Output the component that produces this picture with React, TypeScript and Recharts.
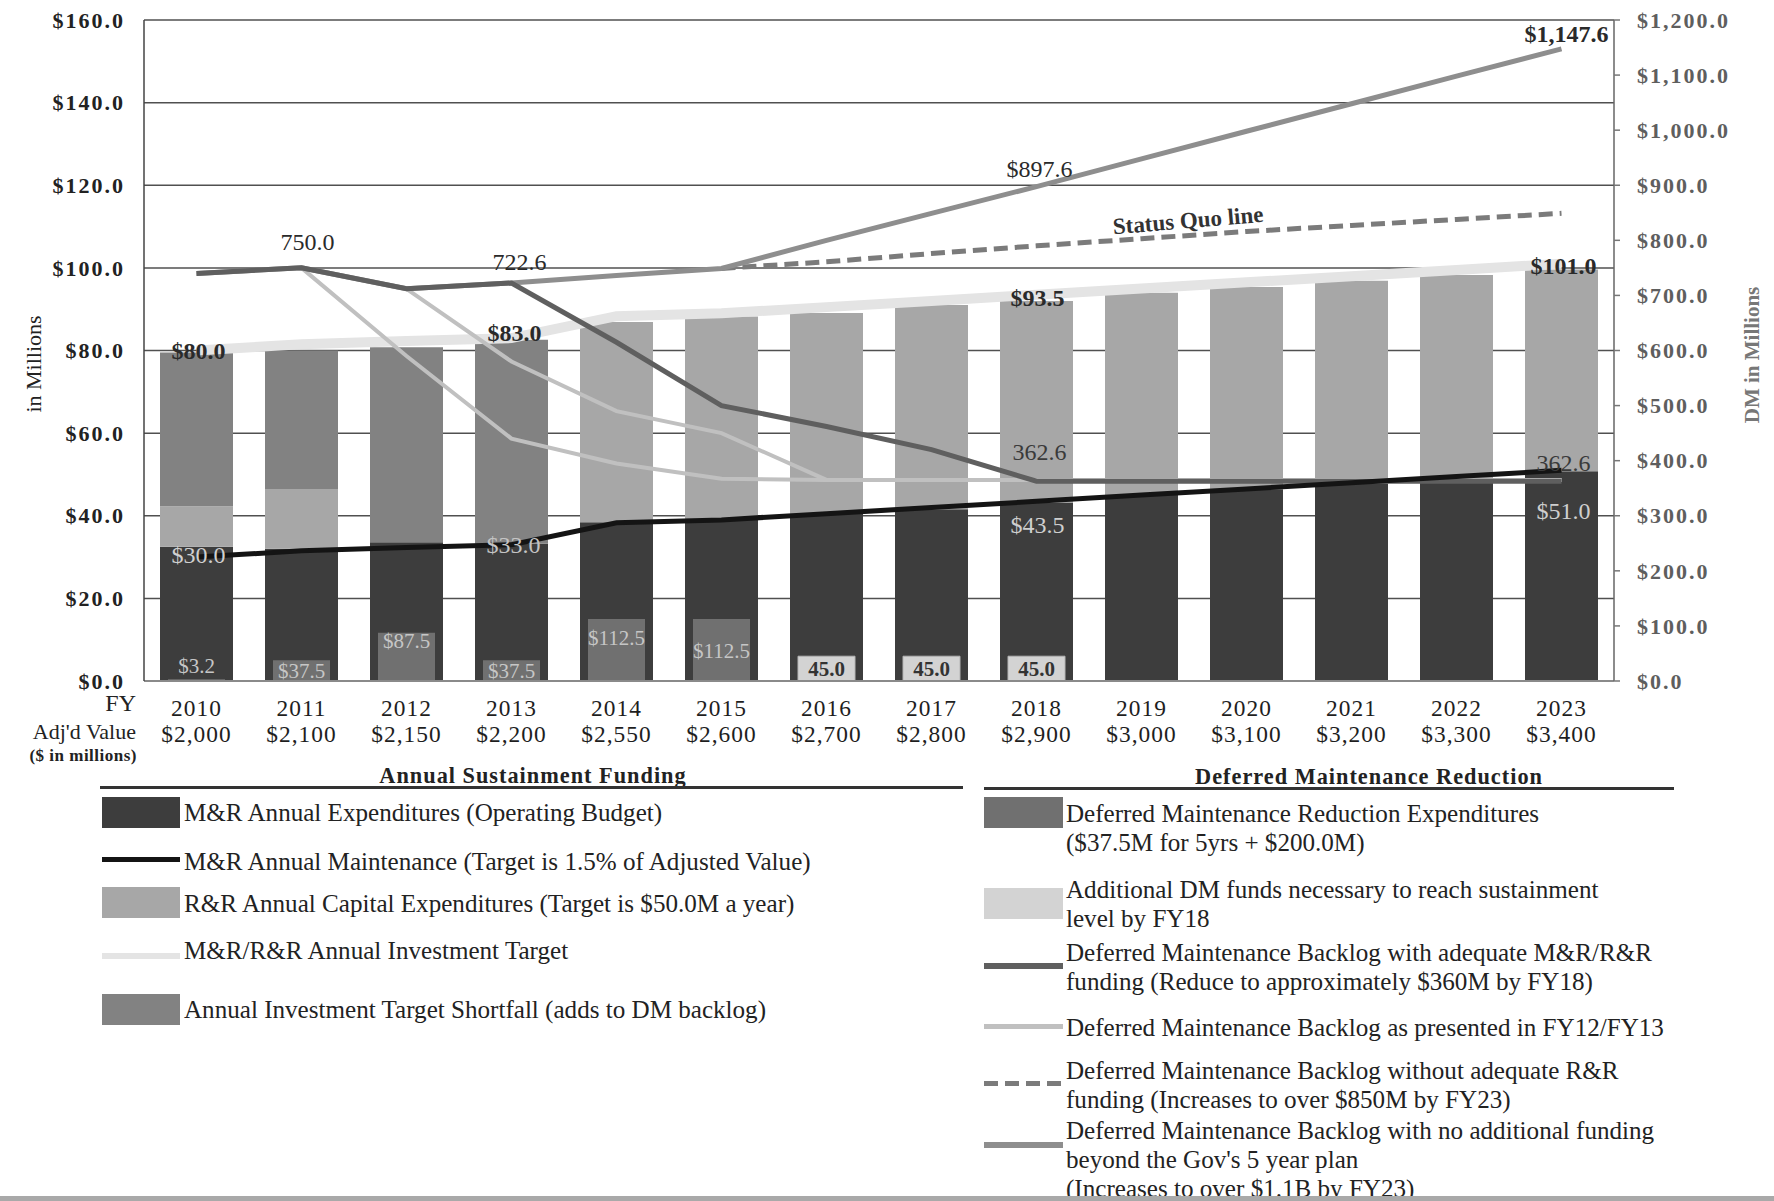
import React from 'react';
import {
  ComposedChart,
  Bar,
  Line,
  XAxis,
  YAxis,
  CartesianGrid,
  LabelList,
  Customized,
} from 'recharts';

// ---------------- data ----------------
const years = ['2010', '2011', '2012', '2013', '2014', '2015', '2016', '2017', '2018', '2019', '2020', '2021', '2022', '2023'];
const adjValues = ['$2,000', '$2,100', '$2,150', '$2,200', '$2,550', '$2,600', '$2,700', '$2,800', '$2,900', '$3,000', '$3,100', '$3,200', '$3,300', '$3,400'];

// left axis ($ in millions)
const mrExpenditures = [32.5, 32.0, 33.6, 33.2, 38.4, 39.2, 40.4, 41.6, 43.2, 45.0, 46.4, 47.8, 49.0, 50.8];
const rrCapital = [9.8, 14.5, 0, 0, 48.5, 49.0, 48.7, 49.4, 48.8, 49.0, 49.0, 49.1, 49.3, 48.8];
const shortfall = [37.2, 33.5, 47.2, 49.4, 0, 0, 0, 0, 0, 0, 0, 0, 0, 0];
const mrMaintenance = [30.0, 31.5, 32.3, 33.0, 38.3, 39.0, 40.5, 42.0, 43.5, 45.0, 46.5, 48.0, 49.5, 51.0];
const investmentTarget = [80.0, 81.5, 82.3, 83.0, 88.3, 89.0, 90.5, 92.0, 93.5, 95.0, 96.5, 98.0, 99.5, 101.0];

// right axis (DM in millions)
const dmReduction = [3.2, 37.5, 87.5, 37.5, 112.5, 112.5, 0, 0, 0, 0, 0, 0, 0, 0];
const additionalDm = [0, 0, 0, 0, 0, 0, 45.0, 45.0, 45.0, 0, 0, 0, 0, 0];
const backlogAdequate = [740, 750, 712, 722.6, 615, 500, 462, 420, 362.6, 362.6, 362.6, 362.6, 362.6, 362.6];
const backlogPresented12 = [null, 750, 590, 440, 395, 367, 365, 365, 365, 365, 365, 365, 365, 365];
const backlogPresented13 = [null, null, 712, 580, 490, 450, 365, 365, 365, 365, 365, 365, 365, 365];
const backlogStatusQuo = [null, null, null, null, null, 749, 761, 776, 790, 803, 816, 827, 838, 849];
const backlogNoFunding = [740, 750, 712, 722.6, 736, 749, 800, 849, 897.6, 948, 998, 1048, 1098, 1147.6];

const leftTicks = [0, 20, 40, 60, 80, 100, 120, 140, 160];
const rightTicks = [0, 100, 200, 300, 400, 500, 600, 700, 800, 900, 1000, 1100, 1200];

const data = years.map((year, i) => ({
  year,
  adj: adjValues[i],
  mrExp: mrExpenditures[i],
  rr: rrCapital[i],
  short: shortfall[i],
  mrMaint: mrMaintenance[i],
  target: investmentTarget[i],
  dmRed: dmReduction[i],
  addDm: additionalDm[i],
  bAdequate: backlogAdequate[i],
  bPres12: backlogPresented12[i],
  bPres13: backlogPresented13[i],
  bQuo: backlogStatusQuo[i],
  bNone: backlogNoFunding[i],
}));

// ---------------- styles ----------------
const FONT = "'Liberation Serif', 'Times New Roman', Times, serif";
const W = 1774;
const H = 1201;

const C = {
  mrExp: '#3d3d3d',
  rr: '#a7a7a7',
  short: '#828282',
  dmRed: '#707070',
  addDm: '#d3d3d3',
  mrLine: '#141414',
  target: '#e4e4e4',
  adequate: '#5f5f5f',
  presented: '#c0c0c0',
  quo: '#7b7b7b',
  none: '#8e8e8e',
};

const fmt = (v: number) =>
  v.toLocaleString('en-US', { minimumFractionDigits: 1, maximumFractionDigits: 1 });

// ---------------- ticks ----------------
const XTick = (props: any) => {
  const { x, y, payload } = props;
  const i = years.indexOf(payload.value);
  return (
    <g fontFamily={FONT} fontSize={23.4} fill="#1e1e1e" style={{ letterSpacing: 1 }}>
      <text x={x} y={y + 35} textAnchor="middle">{payload.value}</text>
      <text x={x} y={y + 61} textAnchor="middle">{adjValues[i]}</text>
    </g>
  );
};

const LeftTick = (props: any) => {
  const { x, y, payload } = props;
  return (
    <text x={x} y={y} dy="0.35em" textAnchor="end" fontFamily={FONT} fontSize={22} fontWeight={700} fill="#222" style={{ letterSpacing: 2 }}>
      {'$' + fmt(payload.value)}
    </text>
  );
};

const RightTick = (props: any) => {
  const { x, y, payload } = props;
  return (
    <text x={x} y={y} dy="0.35em" textAnchor="start" fontFamily={FONT} fontSize={22} fontWeight={700} fill="#5e5e5e" style={{ letterSpacing: 2 }}>
      {'$' + fmt(payload.value)}
    </text>
  );
};

// ---------------- labels ----------------
type LabelCfg = { dx: number; dy: number; prefix: string; fill: string; weight: number; size: number };

const pointLabel = (cfg: Record<number, LabelCfg>) => (props: any) => {
  const vb = props.viewBox || {};
  const x = props.x ?? vb.x;
  const y = props.y ?? vb.y;
  const cfgI = cfg[props.index];
  if (!cfgI || props.value == null || x == null || y == null) return null;
  return (
    <text
      x={x + cfgI.dx}
      y={y + cfgI.dy}
      dy="0.35em"
      textAnchor="middle"
      fontFamily={FONT}
      fontSize={cfgI.size}
      fontWeight={cfgI.weight}
      fill={cfgI.fill}
    >
      {cfgI.prefix + fmt(Number(props.value))}
    </text>
  );
};

const targetLabels = pointLabel({
  0: { dx: 2, dy: 0, prefix: '$', fill: '#2a2a2a', weight: 700, size: 24 },
  3: { dx: 3, dy: -6, prefix: '$', fill: '#2a2a2a', weight: 700, size: 24 },
  8: { dx: 1, dy: 3, prefix: '$', fill: '#2a2a2a', weight: 700, size: 24 },
  13: { dx: 2, dy: 2, prefix: '$', fill: '#2a2a2a', weight: 700, size: 24 },
});
const mrLabels = pointLabel({
  0: { dx: 2, dy: -2, prefix: '$', fill: '#d0d0d0', weight: 400, size: 24 },
  3: { dx: 2, dy: 0, prefix: '$', fill: '#c4c4c4', weight: 400, size: 24 },
  8: { dx: 1, dy: 23, prefix: '$', fill: '#cfcfcf', weight: 400, size: 24 },
  13: { dx: 2, dy: 40, prefix: '$', fill: '#cfcfcf', weight: 400, size: 24 },
});
const adequateLabels = pointLabel({
  1: { dx: 6, dy: -26, prefix: '', fill: '#2a2a2a', weight: 400, size: 24 },
  3: { dx: 8, dy: -21, prefix: '', fill: '#2a2a2a', weight: 400, size: 24 },
  8: { dx: 3, dy: -30, prefix: '', fill: '#3a3a3a', weight: 400, size: 24 },
  13: { dx: 2, dy: -19, prefix: '', fill: '#3a3a3a', weight: 400, size: 24 },
});
const noneLabels = pointLabel({
  8: { dx: 3, dy: -18, prefix: '$', fill: '#2a2a2a', weight: 400, size: 24 },
  13: { dx: 5, dy: -15, prefix: '$', fill: '#2a2a2a', weight: 700, size: 24 },
});

const dmLabelDy: Record<number, number | 'mid' | 'above'> = { 0: 'above', 1: 'mid', 2: 8, 3: 'mid', 4: 19, 5: 32 };
const dmBarLabel = (props: any) => {
  const vb = props.viewBox || {};
  const x = props.x ?? vb.x;
  const y = props.y ?? vb.y;
  const w = props.width ?? vb.width;
  const h = props.height ?? vb.height;
  const v = Number(props.value);
  const mode = dmLabelDy[props.index];
  if (!v || mode == null) return null;
  let ty = y + h / 2;
  if (mode === 'above') ty = y - 14;
  else if (typeof mode === 'number') ty = y + mode;
  return (
    <text x={x + w / 2} y={ty} dy="0.35em" textAnchor="middle" fontFamily={FONT} fontSize={21} fill="#c6c6c6">
      {'$' + fmt(v)}
    </text>
  );
};
const addDmLabel = (props: any) => {
  const vb = props.viewBox || {};
  const x = props.x ?? vb.x;
  const y = props.y ?? vb.y;
  const w = props.width ?? vb.width;
  const h = props.height ?? vb.height;
  const v = Number(props.value);
  if (!v) return null;
  return (
    <text x={x + w / 2} y={y + h / 2} dy="0.35em" textAnchor="middle" fontFamily={FONT} fontSize={21} fontWeight={700} fill="#333">
      {fmt(v)}
    </text>
  );
};

// ---------------- static texts in the svg ----------------
const AxisTexts = () => (
  <g fontFamily={FONT}>
    <text transform="translate(33,364) rotate(-90)" textAnchor="middle" dy="0.35em" fontSize={22} fill="#222">
      in Millions
    </text>
    <text transform="translate(1752,355) rotate(-90)" textAnchor="middle" dy="0.35em" fontSize={21} fontWeight={700} fill="#777">
      DM in Millions
    </text>
    <text x={136} y={711} textAnchor="end" fill="#222">
      <tspan x={136} y={711} fontSize={24}>FY</tspan>
      <tspan x={136} y={739} fontSize={22}>Adj'd Value</tspan>
      <tspan x={137} y={761} fontSize={17} fontWeight={700} style={{ letterSpacing: 0.5 }}>($ in millions)</tspan>
    </text>
    <text transform="translate(1188,220) rotate(-4.8)" textAnchor="middle" dy="0.35em" fontSize={23} fontWeight={700} fill="#333">
      Status Quo line
    </text>
  </g>
);

// ---------------- legend (html) ----------------
const textStyle: React.CSSProperties = {
  position: 'absolute',
  fontFamily: FONT,
  fontSize: 25.1,
  lineHeight: '29px',
  color: '#222',
  whiteSpace: 'nowrap',
};

const Swatch = ({ left, top, width, height, color }: any) => (
  <div style={{ position: 'absolute', left, top, width, height, background: color }} />
);

const leftLegend = [
  { kind: 'rect', color: C.mrExp, top: 797, h: 31, text: ['M&R Annual Expenditures (Operating Budget)'], textTop: 812 },
  { kind: 'line', color: C.mrLine, top: 857, h: 5, text: ['M&R Annual Maintenance (Target is 1.5% of Adjusted Value)'], textTop: 861 },
  { kind: 'rect', color: C.rr, top: 887, h: 31, text: ['R&R Annual Capital Expenditures (Target is $50.0M a year)'], textTop: 903 },
  { kind: 'line', color: C.target, top: 953, h: 6, text: ['M&R/R&R Annual Investment Target'], textTop: 950 },
  { kind: 'rect', color: C.short, top: 994, h: 31, text: ['Annual Investment Target Shortfall (adds to DM backlog)'], textTop: 1009 },
];

const rightLegend = [
  { kind: 'rect', color: C.dmRed, top: 797, h: 31, text: ['Deferred Maintenance Reduction Expenditures', '($37.5M for 5yrs + $200.0M)'], textTop: 813 },
  { kind: 'rect', color: C.addDm, top: 888, h: 31, text: ['Additional DM funds necessary to reach sustainment', 'level by FY18'], textTop: 889 },
  { kind: 'line', color: C.adequate, top: 963, h: 6, text: ['Deferred Maintenance Backlog with adequate M&R/R&R', 'funding (Reduce to approximately $360M by FY18)'], textTop: 952 },
  { kind: 'line', color: C.presented, top: 1024, h: 5, text: ['Deferred Maintenance Backlog as presented in FY12/FY13'], textTop: 1027 },
  { kind: 'dash', color: C.quo, top: 1081, h: 5, text: ['Deferred Maintenance Backlog without adequate R&R', 'funding (Increases to over $850M by FY23)'], textTop: 1070 },
  { kind: 'line', color: C.none, top: 1142, h: 6, text: ['Deferred Maintenance Backlog with no additional funding', "beyond the Gov's 5 year plan", '(Increases to over $1.1B by FY23)'], textTop: 1130 },
];

const LegendColumn = ({ items, swLeft, swWidth, textLeft }: any) => (
  <>
    {items.map((it: any, k: number) => (
      <React.Fragment key={k}>
        {it.kind === 'dash' ? (
          <svg style={{ position: 'absolute', left: swLeft, top: it.top - 2 }} width={swWidth} height={it.h + 4}>
            <line x1={0} x2={swWidth} y1={(it.h + 4) / 2} y2={(it.h + 4) / 2} stroke={it.color} strokeWidth={it.h} strokeDasharray="14 7" />
          </svg>
        ) : (
          <Swatch left={swLeft} top={it.top} width={swWidth} height={it.h} color={it.color} />
        )}
        <div style={{ ...textStyle, left: textLeft, top: it.textTop - 14.5 }}>
          {it.text.map((t: string, j: number) => (
            <div key={j}>{t}</div>
          ))}
        </div>
      </React.Fragment>
    ))}
  </>
);

const LegendBlock = () => (
  <div style={{ position: 'absolute', left: 0, top: 0, width: W, height: H, pointerEvents: 'none' }}>
    <div style={{ ...textStyle, left: 283, width: 500, textAlign: 'center', top: 761, fontSize: 22.3, fontWeight: 700, letterSpacing: 1 }}>
      Annual Sustainment Funding
    </div>
    <div style={{ position: 'absolute', left: 100, top: 786, width: 863, height: 2.5, background: '#333' }} />
    <div style={{ ...textStyle, left: 1119, width: 500, textAlign: 'center', top: 762, fontSize: 22.3, fontWeight: 700, letterSpacing: 1 }}>
      Deferred Maintenance Reduction
    </div>
    <div style={{ position: 'absolute', left: 984, top: 787, width: 690, height: 2.5, background: '#333' }} />
    <LegendColumn items={leftLegend} swLeft={102} swWidth={78} textLeft={184} />
    <LegendColumn items={rightLegend} swLeft={984} swWidth={79} textLeft={1066} />
    <div style={{ position: 'absolute', left: 0, top: 1196, width: W, height: 5, background: '#a9a9a9' }} />
  </div>
);

// ---------------- chart ----------------
export default function App() {
  return (
    <div style={{ position: 'absolute', left: 0, top: 0, width: W, height: H, background: '#fff', overflow: 'hidden' }}>
      <ComposedChart width={W} height={H} data={data} margin={{ top: 20, right: 0, bottom: 460, left: 0 }} barGap={0}>
        <CartesianGrid xAxisId="main" yAxisId="left" vertical={false} stroke="#505050" strokeWidth={1.5} />
        <XAxis xAxisId="dm" dataKey="year" hide height={0} />
        <XAxis
          xAxisId="main"
          dataKey="year"
          height={60}
          interval={0}
          tickLine={false}
          tickSize={0}
          tickMargin={0}
          axisLine={{ stroke: '#8a8a8a', strokeWidth: 2 }}
          tick={<XTick />}
        />
        <YAxis
          yAxisId="left"
          orientation="left"
          width={144}
          domain={[0, 160]}
          ticks={leftTicks}
          interval={0}
          tickLine={false}
          tickSize={0}
          tickMargin={19}
          axisLine={{ stroke: '#444', strokeWidth: 1.5 }}
          tick={<LeftTick />}
        />
        <YAxis
          yAxisId="right"
          orientation="right"
          width={160}
          domain={[0, 1200]}
          ticks={rightTicks}
          interval={0}
          tickSize={6}
          tickMargin={17}
          tickLine={{ stroke: '#777', strokeWidth: 1.5 }}
          axisLine={{ stroke: '#666', strokeWidth: 1.5 }}
          tick={<RightTick />}
        />

        {/* investment target band (behind bars) */}
        <Line xAxisId="main" yAxisId="left" dataKey="target" stroke={C.target} strokeWidth={10} dot={false} activeDot={false} isAnimationActive={false} />

        {/* annual sustainment funding stack */}
        <Bar xAxisId="main" yAxisId="left" dataKey="mrExp" stackId="main" barSize={73} fill={C.mrExp} isAnimationActive={false} />
        <Bar xAxisId="main" yAxisId="left" dataKey="rr" stackId="main" barSize={73} fill={C.rr} isAnimationActive={false} />
        <Bar xAxisId="main" yAxisId="left" dataKey="short" stackId="main" barSize={73} fill={C.short} isAnimationActive={false} />

        {/* deferred maintenance bars (right axis) */}
        <Bar xAxisId="dm" yAxisId="right" dataKey="dmRed" stackId="dm" barSize={57} fill={C.dmRed} isAnimationActive={false}>
          <LabelList dataKey="dmRed" content={dmBarLabel} />
        </Bar>
        <Bar xAxisId="dm" yAxisId="right" dataKey="addDm" stackId="dm" barSize={57} fill={C.addDm} stroke="#b5b5b5" strokeWidth={1} isAnimationActive={false}>
          <LabelList dataKey="addDm" content={addDmLabel} />
        </Bar>

        {/* backlog lines */}
        <Line xAxisId="main" yAxisId="right" dataKey="bPres12" stroke={C.presented} strokeWidth={4} dot={false} activeDot={false} isAnimationActive={false} />
        <Line xAxisId="main" yAxisId="right" dataKey="bPres13" stroke={C.presented} strokeWidth={4} dot={false} activeDot={false} isAnimationActive={false} />
        <Line xAxisId="main" yAxisId="right" dataKey="bQuo" stroke={C.quo} strokeWidth={5} strokeDasharray="14 7" dot={false} activeDot={false} isAnimationActive={false} />
        <Line xAxisId="main" yAxisId="right" dataKey="bNone" stroke={C.none} strokeWidth={5} dot={false} activeDot={false} isAnimationActive={false}>
          <LabelList dataKey="bNone" content={noneLabels} />
        </Line>
        <Line xAxisId="main" yAxisId="right" dataKey="bAdequate" stroke={C.adequate} strokeWidth={5} dot={false} activeDot={false} isAnimationActive={false}>
          <LabelList dataKey="bAdequate" content={adequateLabels} />
        </Line>

        {/* M&R annual maintenance target */}
        <Line xAxisId="main" yAxisId="left" dataKey="mrMaint" stroke={C.mrLine} strokeWidth={5} dot={false} activeDot={false} isAnimationActive={false}>
          <LabelList dataKey="mrMaint" content={mrLabels} />
        </Line>

        {/* labels of the investment target, drawn on top */}
        <Line xAxisId="main" yAxisId="left" dataKey="target" stroke="none" dot={false} activeDot={false} legendType="none" isAnimationActive={false}>
          <LabelList dataKey="target" content={targetLabels} />
        </Line>

        <Customized component={AxisTexts} />
      </ComposedChart>
      <LegendBlock />
    </div>
  );
}
